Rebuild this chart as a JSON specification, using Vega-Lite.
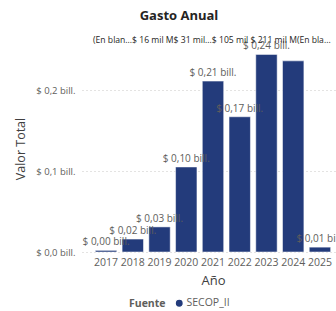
{
  "$schema": "https://vega.github.io/schema/vega-lite/v6.json",
  "autosize": "none",
  "width": 262,
  "height": 207,
  "padding": {"left": 82, "top": 45, "right": 0, "bottom": 59},
  "background": "white",
  "config": {
    "font": "Open Sans",
    "view": {"stroke": null}
  },
  "title": {
    "text": "Gasto Anual",
    "anchor": "middle",
    "dx": -34,
    "fontSize": 13,
    "fontWeight": "bold",
    "color": "#252423",
    "font": "Open Sans",
    "offset": 13
  },
  "layer": [
    {
      "data": {"values": [
        {"Año": "2017", "Valor": 0.002, "Etiqueta": "$ 0,00 bill.", "Fuente": "SECOP_II"},
        {"Año": "2018", "Valor": 0.016, "Etiqueta": "$ 0,02 bill.", "Fuente": "SECOP_II"},
        {"Año": "2019", "Valor": 0.031, "Etiqueta": "$ 0,03 bill.", "Fuente": "SECOP_II"},
        {"Año": "2020", "Valor": 0.105, "Etiqueta": "$ 0,10 bill.", "Fuente": "SECOP_II"},
        {"Año": "2021", "Valor": 0.211, "Etiqueta": "$ 0,21 bill.", "Fuente": "SECOP_II"},
        {"Año": "2022", "Valor": 0.167, "Etiqueta": "$ 0,17 bill.", "Fuente": "SECOP_II"},
        {"Año": "2023", "Valor": 0.244, "Etiqueta": "$ 0,24 bill.", "Fuente": "SECOP_II"},
        {"Año": "2024", "Valor": 0.236, "Etiqueta": "", "Fuente": "SECOP_II"},
        {"Año": "2025", "Valor": 0.006, "Etiqueta": "$ 0,01 bill.", "Fuente": "SECOP_II"}
      ]},
      "encoding": {
        "x": {
          "field": "Año", "type": "ordinal",
          "scale": {"paddingInner": 0.2, "paddingOuter": 0.5},
          "axis": {
            "labelAngle": 0, "ticks": false, "domain": false,
            "labelFontSize": 10.5, "labelColor": "#605E5C", "labelPadding": 5,
            "titleFontSize": 13, "titleColor": "#404040", "titleFontWeight": "normal",
            "titlePadding": 7, "title": "Año"
          }
        },
        "y": {
          "field": "Valor", "type": "quantitative",
          "scale": {"domain": [0, 0.2556], "nice": false},
          "axis": {
            "values": [0, 0.1, 0.2],
            "labelExpr": "'$ ' + replace(format(datum.value, '.1f'), '.', ',') + ' bill.'",
            "ticks": false, "domain": false,
            "grid": true, "gridDash": [1, 3], "gridColor": "#C8C6C4",
            "labelFontSize": 9.5, "labelColor": "#605E5C", "labelPadding": 7,
            "title": "Valor Total", "titleFontSize": 12.5, "titleColor": "#404040",
            "titleFontWeight": "normal", "titlePadding": 8
          }
        }
      },
      "layer": [
        {
          "mark": {"type": "bar", "stroke": "white", "strokeWidth": 0.5},
          "encoding": {
            "color": {
              "field": "Fuente", "type": "nominal",
              "scale": {"range": ["#233B7B"]},
              "legend": {
                "orient": "none", "legendX": 47, "legendY": 253,
                "direction": "horizontal", "titleOrient": "left",
                "symbolType": "circle", "symbolSize": 70, "symbolOpacity": 1,
                "titleFontSize": 10.5, "titleFontWeight": "bold", "titleColor": "#605E5C",
                "labelFontSize": 10.5, "labelColor": "#605E5C", "titlePadding": 8,
                "labelOffset": 2
              }
            }
          }
        },
        {
          "mark": {"type": "text", "baseline": "bottom", "dy": -3, "fontSize": 10, "color": "#605E5C"},
          "encoding": {"text": {"field": "Etiqueta"}}
        }
      ]
    },
    {
      "data": {"values": [
        {"Encabezado": "(En blan...$ 16 mil M$ 31 mil...$ 105 mil $ 211 mil M(En bla...", "Año": "2017", "Valor": 0.2617}
      ]},
      "mark": {"type": "text", "align": "left", "baseline": "middle", "dx": -13, "fontSize": 8.6, "color": "#252423", "clip": false},
      "encoding": {
        "x": {"field": "Año", "type": "ordinal"},
        "y": {"field": "Valor", "type": "quantitative"},
        "text": {"field": "Encabezado"}
      }
    }
  ]
}
